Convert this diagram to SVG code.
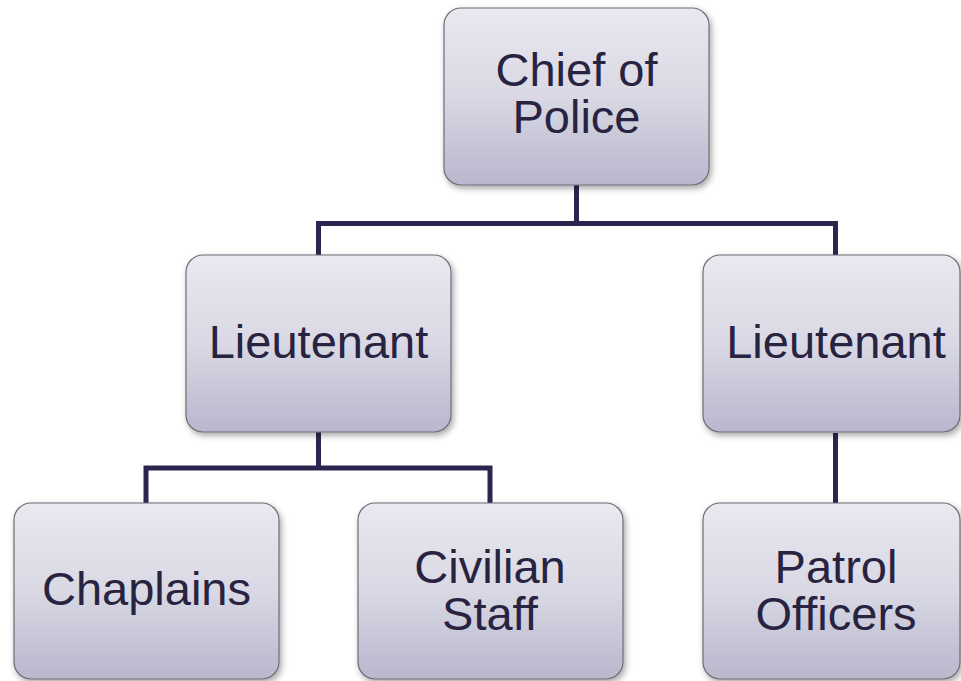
<svg xmlns="http://www.w3.org/2000/svg" width="961" height="681" viewBox="0 0 961 681">
<defs>
<linearGradient id="g" x1="0" y1="0" x2="0" y2="1">
<stop offset="0" stop-color="#e9e9f0"/>
<stop offset="0.5" stop-color="#d9d8e4"/>
<stop offset="1" stop-color="#b8b7cd"/>
</linearGradient>
<filter id="sh" x="-10%" y="-10%" width="125%" height="125%">
<feDropShadow dx="2" dy="3" stdDeviation="3" flood-color="#000" flood-opacity="0.35"/>
</filter>
<style>
.box{fill:url(#g);stroke:#6d6d78;stroke-width:1.2;filter:url(#sh)}
.t{font-family:"Liberation Sans",Arial,sans-serif;font-size:47px;fill:#282340;text-anchor:middle}
.c{fill:none;stroke:#2b2650;stroke-width:5;stroke-linejoin:miter}
</style>
</defs>
<g id="connectors">
<path class="c" d="M576.5 185 V223.5 M318.5 255 V223.5 H835.5 V255"/>
<path class="c" d="M318.5 432 V468 M146 503 V468 H490 V503"/>
<path class="c" d="M835.5 433 V503"/>
</g>
<g id="chief">
<rect class="box" x="444" y="8" width="265" height="177" rx="17"/>
<text class="t" x="576.5" y="86">Chief of<tspan x="576.5" dy="47">Police</tspan></text>
</g>
<g id="lieutenant-left">
<rect class="box" x="186" y="255" width="265" height="177" rx="17"/>
<text class="t" x="318.5" y="358">Lieutenant</text>
</g>
<g id="lieutenant-right">
<rect class="box" x="703" y="255" width="257" height="177" rx="17"/>
<text class="t" x="836" y="358">Lieutenant</text>
</g>
<g id="chaplains">
<rect class="box" x="14" y="503" width="265" height="176" rx="17"/>
<text class="t" x="146.5" y="605">Chaplains</text>
</g>
<g id="civilian-staff">
<rect class="box" x="358" y="503" width="265" height="176" rx="17"/>
<text class="t" x="490" y="583">Civilian<tspan x="490" dy="47">Staff</tspan></text>
</g>
<g id="patrol-officers">
<rect class="box" x="703" y="503" width="257" height="176" rx="17"/>
<text class="t" x="836" y="583">Patrol<tspan x="836" dy="47">Officers</tspan></text>
</g>
</svg>
